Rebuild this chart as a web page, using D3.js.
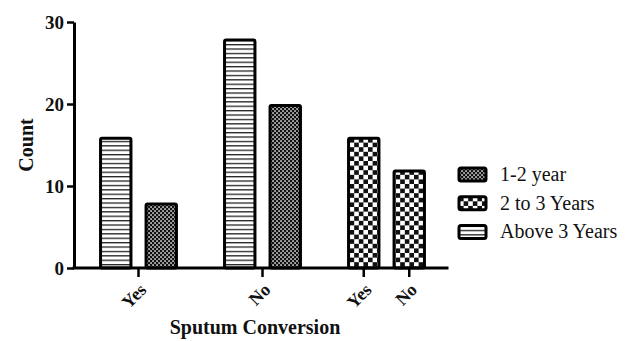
<!DOCTYPE html>
<html>
<head>
<meta charset="utf-8">
<script src="https://cdn.jsdelivr.net/npm/d3@7"></script>
<style>
  html, body { margin: 0; padding: 0; background: #fff; }
  svg { display: block; }
  text { font-family: "Liberation Serif", "Times New Roman", serif; fill: #111; }
</style>
</head>
<body>
<svg id="chart" width="634" height="341"></svg>
<script>
// Sputum conversion counts by treatment duration
const groups = ["g1", "g2", "g3"];
const seriesNames = ["1-2 year", "2 to 3 Years", "Above 3 Years"];
const tickLabels = ["Yes", "No", "Yes", "No"];
const yTicks = [0, 10, 20, 30];

// Each group holds two bars: [series, label, value]
const group1 = [["Above 3 Years", "Yes", 16], ["1-2 year", "Yes", 8]];
const group2 = [["Above 3 Years", "No", 28], ["1-2 year", "No", 20]];
const group3 = [["2 to 3 Years", "Yes", 16], ["2 to 3 Years", "No", 12]];
const groupBars = [group1, group2, group3];

const svg = d3.select("#chart");
const defs = svg.append("defs");

// Fill patterns
const pStripe = defs.append("pattern").attr("id", "pat-stripe")
  .attr("patternUnits", "userSpaceOnUse").attr("width", 8).attr("height", 4.4);
pStripe.append("rect").attr("width", 8).attr("height", 4.4).attr("fill", "#fff");
pStripe.append("rect").attr("y", 0).attr("width", 8).attr("height", 1.3).attr("fill", "#222");

const pFine = defs.append("pattern").attr("id", "pat-fine")
  .attr("patternUnits", "userSpaceOnUse").attr("width", 4).attr("height", 4);
pFine.append("rect").attr("width", 4).attr("height", 4).attr("fill", "#111");
pFine.append("rect").attr("x", 0.3).attr("y", 0.3).attr("width", 1.5).attr("height", 1.5).attr("fill", "#fff");
pFine.append("rect").attr("x", 2.3).attr("y", 2.3).attr("width", 1.5).attr("height", 1.5).attr("fill", "#fff");

const cell = 4.6;
const pCoarse = defs.append("pattern").attr("id", "pat-coarse")
  .attr("patternUnits", "userSpaceOnUse").attr("width", cell * 2).attr("height", cell * 2);
pCoarse.append("rect").attr("width", cell * 2).attr("height", cell * 2).attr("fill", "#fff");
pCoarse.append("rect").attr("width", cell).attr("height", cell).attr("fill", "#111");
pCoarse.append("rect").attr("x", cell).attr("y", cell).attr("width", cell).attr("height", cell).attr("fill", "#111");

const fillFor = d3.scaleOrdinal()
  .domain(seriesNames)
  .range(["url(#pat-fine)", "url(#pat-coarse)", "url(#pat-stripe)"]);

// Scales
const y = d3.scaleLinear().domain([0, 30]).range([268, 22]);
const x0 = d3.scaleBand().domain(groups).range([76.5, 448.5]).padding(0);
const x1 = d3.scalePoint().domain([0, 1]).range([-22.75, 22.75]);
const barW = 30.4;
const axisX = 74;

// Bars
const bars = [];
groupBars.forEach((gb, gi) => {
  gb.forEach((d, i) => {
    bars.push({ group: groups[gi], idx: i, series: d[0], label: d[1], value: d[2] });
  });
});

svg.append("g").selectAll("rect")
  .data(bars)
  .join("rect")
  .attr("x", d => x0(d.group) + x0.bandwidth() / 2 + x1(d.idx) - barW / 2)
  .attr("y", d => y(d.value) + 1.5)
  .attr("width", barW)
  .attr("height", d => y(0) - y(d.value) - 1.5)
  .attr("rx", 1.5)
  .attr("fill", d => fillFor(d.series))
  .attr("stroke", "#000")
  .attr("stroke-width", 3);

// Y axis
const yAxis = svg.append("g")
  .attr("transform", `translate(${axisX},0)`)
  .call(d3.axisLeft(y).tickValues(yTicks).tickSize(7).tickSizeOuter(0).tickPadding(3));
yAxis.select(".domain").attr("stroke", "#000").attr("stroke-width", 3);
yAxis.selectAll(".tick line").attr("stroke", "#000").attr("stroke-width", 2.5);
yAxis.selectAll(".tick text")
  .attr("font-family", "Liberation Serif, serif")
  .attr("font-size", 19).attr("font-weight", "bold").attr("fill", "#111");

// X axis line
const base = y(0);
svg.append("line")
  .attr("x1", axisX - 1.5).attr("x2", x0.range()[1])
  .attr("y1", base).attr("y2", base)
  .attr("stroke", "#000").attr("stroke-width", 3);

// X ticks: group centres for the first two groups, bar centres for the last
const tickPos = [
  x0("g1") + x0.bandwidth() / 2,
  x0("g2") + x0.bandwidth() / 2,
  x0("g3") + x0.bandwidth() / 2 + x1(0),
  x0("g3") + x0.bandwidth() / 2 + x1(1)
];
const tickData = tickLabels.map((t, i) => ({ t, x: tickPos[i], i }));
const xt = svg.append("g");
xt.selectAll("line").data(tickData).join("line")
  .attr("x1", d => d.x).attr("x2", d => d.x)
  .attr("y1", base).attr("y2", base + 9)
  .attr("stroke", "#000").attr("stroke-width", 2.5);

// Diagonal baselines (45°) that the tick labels follow, ending just below each tick
defs.selectAll("path.diag").data(tickData).join("path")
  .attr("class", "diag")
  .attr("id", d => `diag-${d.i}`)
  .attr("d", d => {
    const ex = d.x + 9, ey = base + 23;
    return `M${ex - 60},${ey + 60}L${ex},${ey}`;
  });
xt.selectAll("text").data(tickData).join("text")
  .attr("font-size", 18).attr("font-weight", "bold")
  .append("textPath")
  .attr("href", d => `#diag-${d.i}`)
  .attr("startOffset", "100%")
  .attr("text-anchor", "end")
  .text(d => d.t);

// Axis titles
svg.append("text")
  .attr("transform", "translate(33,145) rotate(-90)")
  .attr("text-anchor", "middle")
  .attr("font-size", 20).attr("font-weight", "bold")
  .text("Count");

svg.append("text")
  .attr("x", 255).attr("y", 334)
  .attr("text-anchor", "middle")
  .attr("font-size", 20).attr("font-weight", "bold")
  .text("Sputum Conversion");

// Legend
const legend = svg.append("g").attr("transform", "translate(459,168)");
const li = legend.selectAll("g").data(seriesNames).join("g")
  .attr("transform", (d, i) => `translate(0,${i * 28.7})`);
li.append("rect")
  .attr("x", 0).attr("y", 0).attr("width", 27).attr("height", 13).attr("rx", 2)
  .attr("fill", d => fillFor(d)).attr("stroke", "#000").attr("stroke-width", 3);
li.append("text")
  .attr("x", 41).attr("y", 13)
  .attr("font-size", 20)
  .text(d => d);
</script>
</body>
</html>
